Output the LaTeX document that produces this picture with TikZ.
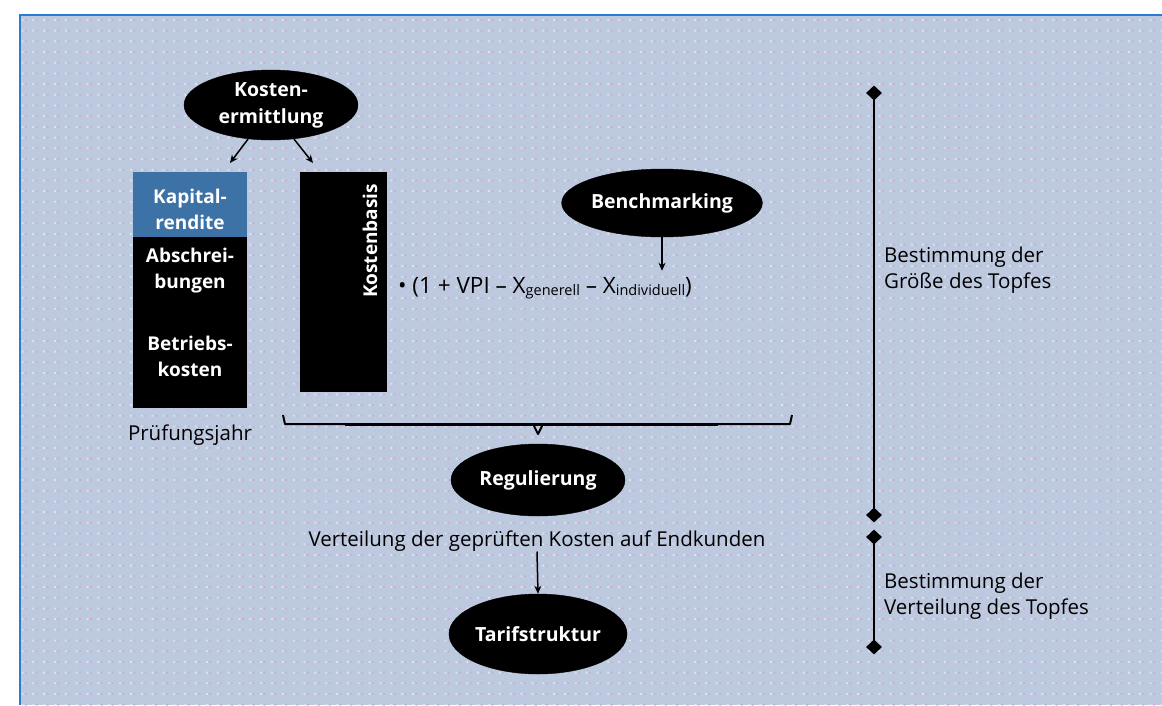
\documentclass[tikz,border=0pt]{standalone}
\usepackage{fontspec}
\setmainfont{Open Sans}
\usetikzlibrary{shapes.geometric,arrows.meta}
\definecolor{bgc}{HTML}{BDC9DE}
\definecolor{dotp}{HTML}{C9AFD2}
\definecolor{dotw}{HTML}{DDE4EF}
\definecolor{framec}{HTML}{2B7BD0}
\definecolor{kapblue}{HTML}{3D72A6}
\newcommand{\subtxt}[1]{\raisebox{-2.5pt}{\fontsize{14.5}{15}\selectfont #1}}
\begin{document}
\begin{tikzpicture}[x=1pt,y=-1pt,
  oval/.style={ellipse, fill=black, draw=black, minimum width=174pt, minimum height=70pt, inner sep=0pt, text=white, font=\bfseries\fontsize{19.5}{27}\selectfont, align=center},
  boxtxt/.style={text=white, font=\bfseries\fontsize{19}{26}\selectfont, align=center, inner sep=0pt},
  lbl/.style={text=black, font=\fontsize{20.5}{26}\selectfont, align=left, inner sep=0pt},
  arr/.style={draw=black, line width=1.5pt, -{Stealth[length=8pt,width=7pt]}},
  dmd/.style={diamond, fill=black, minimum width=16pt, minimum height=15pt, inner sep=0pt},
  scaleline/.style={draw=black, line width=2.5pt}]
\useasboundingbox (0,0) rectangle (1162,705);
\fill[white] (0,0) rectangle (1162,705);
\fill[bgc] (19,14) rectangle (1162,705);
% dotted texture
\foreach \yy in {0,...,64} {
  \pgfmathsetmacro\py{19+\yy*10.7}
  \fill[dotp] \foreach \xx in {0,...,105} {(25+\xx*10.85,\py) rectangle ++(1.8,1.8)};
  \fill[dotw] \foreach \xx in {0,...,105} {(21.5+\xx*10.85,\py) rectangle ++(1.8,1.8)};
}
\draw[framec, line width=1.5pt] (19.75,705) -- (19.75,14.75) -- (1162,14.75);

% Kostenermittlung
\node[oval] (ke) at (271,105) {Kosten-\\ermittlung};

% left stacked box
\node[fill=kapblue, minimum width=114pt, minimum height=65pt, inner sep=0pt, anchor=north west] (kap) at (133,172) {};
\node[fill=black, minimum width=114pt, minimum height=171pt, inner sep=0pt, anchor=north west] (rest) at (133,237) {};
\node[boxtxt] (t1) at (190,209) {Kapital-\\rendite};
\node[boxtxt] (t2) at (190,271) {Abschrei-\\bungen};
\node[boxtxt] (t3) at (190,356) {Betriebs-\\kosten};
\node[lbl] (pj) at (190,435) {Prüfungsjahr};

% Kostenbasis
\node[fill=black, minimum width=87pt, minimum height=220pt, inner sep=0pt, anchor=north west] (kb) at (300,172) {};
\node[boxtxt, rotate=90] (kbt) at (370,241) {Kostenbasis};

% arrows from Kostenermittlung
\coordinate (a1) at (230,163);
\coordinate (a2) at (313,163);
\draw[arr] (ke.-124) -- (a1);
\draw[arr] (ke.-56) -- (a2);

% Benchmarking
\node[oval, minimum height=68pt] (bm) at (662,203) {Benchmarking};
\node[lbl, anchor=west, font=\fontsize{22.5}{26}\selectfont] (fm) at (398,288) {\textbullet\ (1 + VPI – X\subtxt{generell} – X\subtxt{individuell})};
\draw[arr] (bm.south) -- ([yshift=6pt]bm.south |- fm.north);

% brace
\coordinate (b1) at (283,415);
\coordinate (b2) at (792,415);
\coordinate (bt) at (538,434);
\draw[black, line width=2pt, line join=round] (b1) -- (285,424) -- (533,424) -- (bt) -- (543,424) -- (790,424) -- (b2);
\draw[black, line width=3.5pt] (345,424.5) -- (718,424.5);

% Regulierung
\node[oval, minimum height=72pt] (reg) at (538,480) {Regulierung};

% Verteilung
\node[lbl] (vt) at (537,541) {Verteilung der geprüften Kosten auf Endkunden};
\node[oval, minimum height=80pt] (tar) at (538,634) {Tarifstruktur};
\draw[arr] (vt.south) -- (tar.north);

% right scale
\node[dmd] (d1) at (874,93) {};
\node[dmd] (d2) at (874,515) {};
\node[dmd] (d3) at (874,537) {};
\node[dmd] (d4) at (874,647) {};
\draw[scaleline] (d1.center) -- (d2.center);
\draw[scaleline] (d3.center) -- (d4.center);
\node[lbl, anchor=west] (r1) at (884,270) {Bestimmung der\\Größe des Topfes};
\node[lbl, anchor=west] (r2) at (884,596) {Bestimmung der\\Verteilung des Topfes};
\end{tikzpicture}
\end{document}
